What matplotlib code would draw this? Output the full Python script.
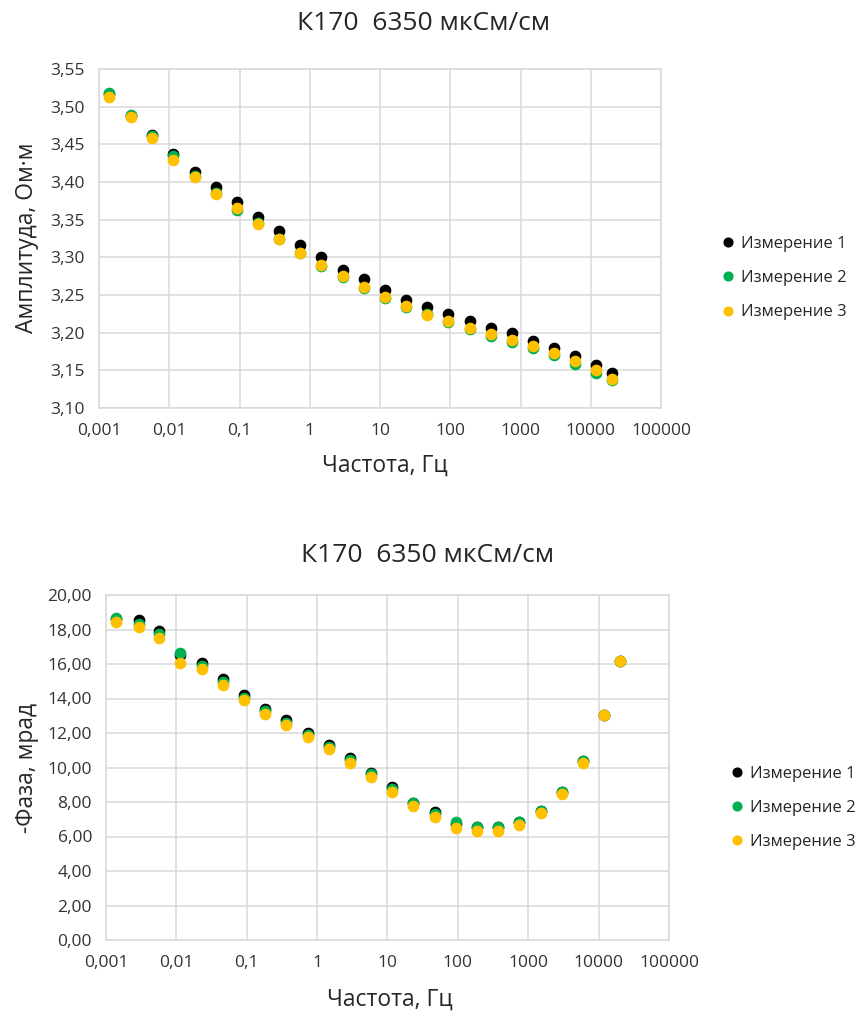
import matplotlib
matplotlib.use("Agg")
import matplotlib.pyplot as plt
from matplotlib.ticker import FixedLocator, FuncFormatter, NullLocator

plt.rcParams['font.family'] = ['Open Sans', 'DejaVu Sans']

# частоты, Гц
freq = [0.0014, 0.0029, 0.0057, 0.0114, 0.0229, 0.0458, 0.0916, 0.183, 0.366, 0.732,
        1.46, 2.93, 5.86, 11.7, 23.4, 46.9, 93.8, 188, 375, 750,
        1500, 3000, 6000, 12000, 20000]

# амплитуда, Ом·м
amp1 = [3.517, 3.488, 3.462, 3.437, 3.413, 3.393, 3.373, 3.353, 3.335, 3.316,
        3.300, 3.283, 3.271, 3.257, 3.243, 3.234, 3.225, 3.215, 3.206, 3.199,
        3.189, 3.180, 3.169, 3.157, 3.147]
amp2 = [3.518, 3.489, 3.461, 3.434, 3.408, 3.386, 3.363, 3.345, 3.325, 3.306,
        3.288, 3.274, 3.259, 3.246, 3.234, 3.225, 3.214, 3.205, 3.196, 3.187,
        3.179, 3.170, 3.159, 3.146, 3.137]
amp3 = [3.513, 3.486, 3.458, 3.429, 3.406, 3.384, 3.365, 3.344, 3.324, 3.306,
        3.290, 3.275, 3.260, 3.248, 3.236, 3.224, 3.216, 3.206, 3.198, 3.190,
        3.182, 3.173, 3.162, 3.150, 3.138]

# -фаза, мрад
ph1 = [18.60, 18.55, 17.91, 16.55, 16.08, 15.11, 14.18, 13.41, 12.75, 12.02,
       11.32, 10.55, 9.70, 8.89, 7.96, 7.44, 6.72, 6.57, 6.57, 6.86,
       7.50, 8.60, 10.36, 13.04, 16.15]
ph2 = [18.68, 18.32, 17.74, 16.62, 15.88, 14.97, 14.05, 13.26, 12.60, 11.88,
       11.21, 10.45, 9.62, 8.75, 7.94, 7.30, 6.86, 6.55, 6.55, 6.84,
       7.45, 8.60, 10.36, 13.04, 16.15]
ph3 = [18.45, 18.16, 17.51, 16.04, 15.73, 14.76, 13.89, 13.10, 12.45, 11.75,
       11.09, 10.28, 9.43, 8.58, 7.79, 7.13, 6.47, 6.32, 6.34, 6.65,
       7.38, 8.48, 10.24, 13.04, 16.15]

xticks = [0.001, 0.01, 0.1, 1, 10, 100, 1000, 10000, 100000]
xlabels = ['0,001', '0,01', '0,1', '1', '10', '100', '1000', '10000', '100000']

title = 'К170  6350 мкСм/см'
names = ['Измерение 1', 'Измерение 2', 'Измерение 3']
colors = ['#000000', '#00B050', '#FFC000']

W, H = 862, 1017
fig = plt.figure(figsize=(W / 100, H / 100), dpi=100)

txt = '#262626'
tck = '#333333'
grid = '#D9D9D9'


def px(x0, y0, x1, y1):
    return [x0 / W, 1 - y1 / H, (x1 - x0) / W, (y1 - y0) / H]


def style(ax, ylim, ystep):
    ax.set_xscale('log')
    ax.set_xlim(0.001, 100000)
    ax.xaxis.set_major_locator(FixedLocator(xticks))
    ax.xaxis.set_minor_locator(NullLocator())
    ax.set_xticklabels(xlabels)
    ax.set_ylim(*ylim)
    n = int(round((ylim[1] - ylim[0]) / ystep))
    ax.set_yticks([ylim[0] + i * ystep for i in range(n + 1)])
    ax.yaxis.set_major_formatter(FuncFormatter(lambda v, p: f"{v:.2f}".replace('.', ',')))
    ax.grid(True, color=grid, lw=1.1)
    ax.set_axisbelow(True)
    for s in ax.spines.values():
        s.set_color(grid)
        s.set_linewidth(1.1)
    ax.tick_params(axis='both', length=0, labelsize=12.5, labelcolor=tck)
    ax.tick_params(axis='x', pad=11)
    ax.tick_params(axis='y', pad=10)


def legend(ax, x, y):
    ax.legend(loc='center left', bbox_to_anchor=(x / W, 1 - y / H), bbox_transform=fig.transFigure,
              frameon=False, fontsize=12, handlelength=0.8, handletextpad=0.4, borderpad=0,
              borderaxespad=0, labelspacing=1.1, markerscale=0.85, labelcolor=txt)


# --- амплитуда
ax1 = fig.add_axes(px(99, 69, 661, 408))
for y, c, n in zip([amp1, amp2, amp3], colors, names):
    ax1.plot(freq, y, 'o', color=c, ms=7.4, label=n, clip_on=False)
style(ax1, (3.10, 3.55), 0.05)
fig.text(424 / W, 1 - 24 / H, title, ha='center', va='center', fontsize=19, color=txt)
fig.text(385 / W, 1 - 466 / H, 'Частота, Гц', ha='center', va='center', fontsize=16.5, color=txt)
fig.text(27 / W, 1 - 238 / H, 'Амплитуда, Ом·м', ha='center', va='center', rotation=90,
         fontsize=16.5, color=txt)
legend(ax1, 721, 278)

# --- фаза
ax2 = fig.add_axes(px(106, 595, 669, 940))
for y, c, n in zip([ph1, ph2, ph3], colors, names):
    ax2.plot(freq, y, 'o', color=c, ms=7.4, label=n, clip_on=False)
style(ax2, (0, 20), 2)
fig.text(428 / W, 1 - 555 / H, title, ha='center', va='center', fontsize=19, color=txt)
fig.text(390 / W, 1 - 1000 / H, 'Частота, Гц', ha='center', va='center', fontsize=16.5, color=txt)
fig.text(27 / W, 1 - 768 / H, '-Фаза, мрад', ha='center', va='center', rotation=90,
         fontsize=16.5, color=txt)
legend(ax2, 730, 808)

fig.savefig('out.png', dpi=100)
